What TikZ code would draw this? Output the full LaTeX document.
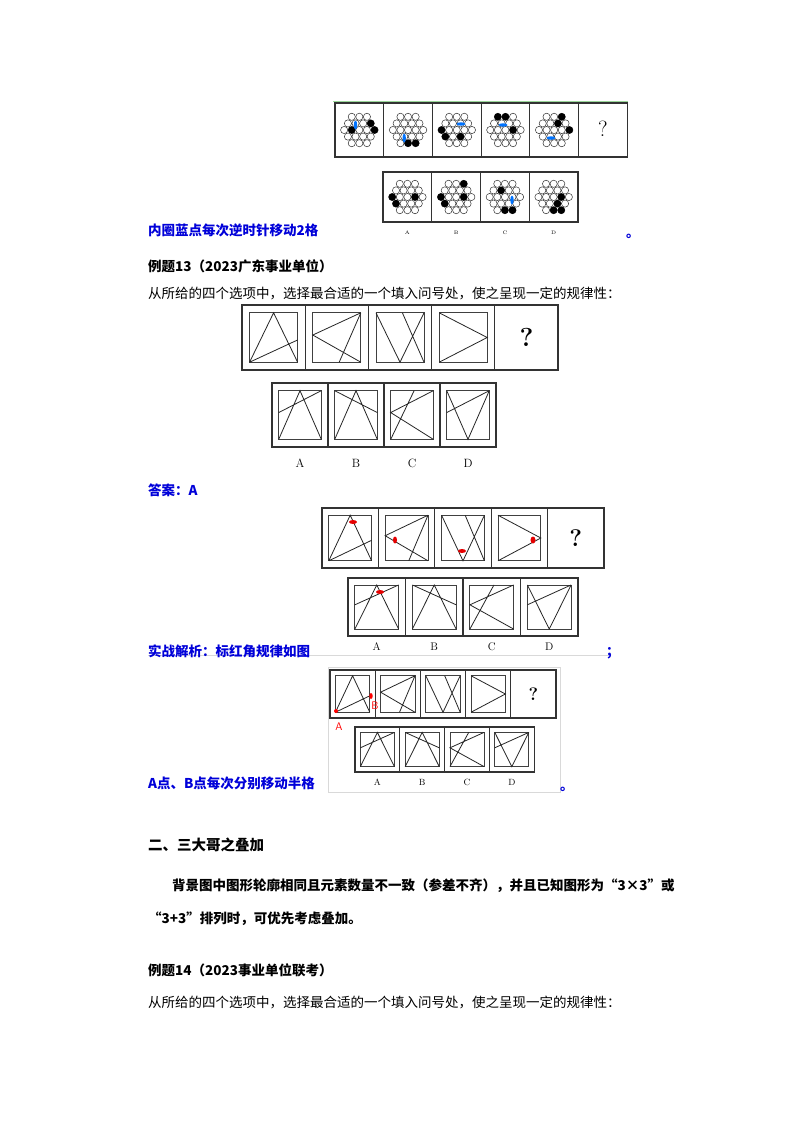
\documentclass[tikz,border=0pt]{standalone}
\usepackage{fontspec}
\newfontfamily\cjk{Noto Sans CJK SC}
\begin{document}
\begin{tikzpicture}[x=1pt,y=-1pt,
  frame/.style={draw=black!80,line width=1.2pt},
  inner/.style={draw=black!75,line width=0.9pt},
  ln/.style={black!85,line width=0.8pt},
  circ/.style={draw=black!80,fill=white,line width=0.5pt},
  txt/.style={anchor=base west,font=\cjk\fontsize{13.5}{16}\selectfont,inner sep=0pt},
  btxt/.style={txt,font=\cjk\bfseries\fontsize{13.5}{16}\selectfont},
  bl/.style={btxt,text=blue!85!black},
  lab/.style={anchor=base,inner sep=0pt},
  redm/.style={fill=red!90!black},
  bluem/.style={fill=blue!55!cyan}]
\useasboundingbox (0,0) rectangle (800,1132);
\fill[white] (0,0) rectangle (800,1132);
\newcommand\tlines[1]{%
 \ifcase#1
  \draw[ln] (0,1)--(0.5,0)--(1,1) (0,1)--(1,0.55);
 \or \draw[ln] (1,0)--(0,0.45)--(1,1) (1,0)--(0.55,1);
 \or \draw[ln] (0,0)--(0.5,1)--(1,0) (0.55,0)--(1,1);
 \or \draw[ln] (0,0)--(1,0.5)--(0,1);
 \or \draw[ln] (0,1)--(0.5,0)--(1,1) (0,0.45)--(1,0);
 \or \draw[ln] (0,1)--(0.5,0)--(1,1) (0,0)--(1,0.45);
 \or \draw[ln] (1,0)--(0,0.45)--(1,1) (0.55,0)--(0,1);
 \or \draw[ln] (0,0)--(0.5,1)--(1,0) (0,0.45)--(1,0);
 \fi}
\newcommand\tcell[5]{%
 \draw[frame] (#1,#2) rectangle ++(#3,#4);
 \begin{scope}[shift={(#1+0.12*#3,#2+0.12*#4)},xscale=0.76*#3,yscale=0.76*#4]
  \draw[inner] (0,0) rectangle (1,1);
  \tlines{#5}
 \end{scope}}
\newcommand\qcell[5]{%
 \draw[frame] (#1,#2) rectangle ++(#3,#4);
 \node[font=\bfseries\fontsize{#5}{#5}\selectfont] at (#1+0.5*#3,#2+0.5*#4) {?};}
\newcommand\hexfig[3]{%
 \foreach \r/\n in {0/3,1/4,2/5,3/4,4/3}{\foreach \k in {1,...,\n}{%
   \draw[circ] ({#1+(\k-1-(\n-1)/2)*7.6},{#2+(\r-2)*6.6}) circle[radius=3.6pt];}}
 \foreach \r/\k in {#3}{\pgfmathsetmacro\nn{5-abs(\r-2)}%
   \fill[black] ({#1+(\k-(\nn-1)/2)*7.6},{#2+(\r-2)*6.6}) circle[radius=3.7pt];}}
\newcommand\hopt[3]{%
  \draw[frame] (383+#1*48.75,172) rectangle ++(48.75,50);
  \hexfig{407.4+#1*48.75}{197}{#3}
  \node[lab,font=\fontsize{5}{5}\selectfont] at (407.4+#1*48.75,234) {#2};}
% ===== hex figure =====
\draw[green!60!black!40,line width=0.8pt] (333,101)--(628,101);
\foreach \i in {0,...,4}{\draw[frame] (335+\i*48.7,103) rectangle ++(48.7,54);}
\draw[frame] (335+5*48.7,103) rectangle ++(48.7,54);
\node[font=\fontsize{22}{22}\selectfont] at (335+5.5*48.7,129) {?};
\hexfig{359.35}{130}{1/3,2/4,2/1}
\fill[bluem] (355.5,125) ellipse [x radius=1.7pt,y radius=4.5pt];
\hexfig{408.05}{130}{4/1,4/2}
\fill[bluem] (404.2,138) ellipse [x radius=1.7pt,y radius=4.5pt];
\hexfig{456.75}{130}{2/0,3/0,3/2}
\fill[bluem] (461,124) ellipse [x radius=4.5pt,y radius=1.7pt];
\hexfig{505.45}{130}{0/0,0/1,2/3}
\fill[bluem] (503,125) ellipse [x radius=4.5pt,y radius=1.7pt];
\hexfig{554.15}{130}{0/2,1/2,2/4}
\fill[bluem] (551,138) ellipse [x radius=4.5pt,y radius=1.7pt];
\hopt{0}{A}{2/0,2/3,3/0}
\hopt{1}{B}{0/2,2/0,2/3,3/0}
\hopt{2}{C}{1/1,4/1,4/2}
\hopt{3}{D}{2/3,3/2,4/1,4/2}
\fill[bluem] (512,200) ellipse [x radius=1.7pt,y radius=4.5pt];
\node[bl] at (148,235) {内圈蓝点每次逆时针移动2格};
\node[bl] at (626,237) {。};
\node[btxt] at (148,271) {例题13（2023广东事业单位）};
\node[txt] at (148,298) {从所给的四个选项中，选择最合适的一个填入问号处，使之呈现一定的规律性：};
% ===== figure 2 =====
\foreach \i in {0,...,3}{\tcell{242+\i*63.2}{305}{63.2}{65}{\i}}
\qcell{242+4*63.2}{305}{63.2}{65}{26}
\foreach \i/\l in {0/A,1/B,2/C,3/D}{\tcell{272+\i*56}{383}{56}{64}{\numexpr\i+4\relax}
  \node[lab,font=\fontsize{12}{12}\selectfont] at (300+\i*56,467) {\l};}
\node[bl] at (148,495) {答案：A};
% ===== figure 3 =====
\foreach \i in {0,...,3}{\tcell{322+\i*56.4}{508}{56.4}{60}{\i}}
\qcell{322+4*56.4}{508}{56.4}{60}{24}
\foreach \i/\l in {0/A,1/B,2/C,3/D}{\tcell{348+\i*57.5}{578}{57.5}{58}{\numexpr\i+4\relax}
  \node[lab,font=\fontsize{11}{11}\selectfont] at (376.75+\i*57.5,650) {\l};}
\fill[redm] (353,522) ellipse [x radius=4pt,y radius=2pt];
\fill[redm] (395,540) ellipse [x radius=2pt,y radius=3.5pt];
\fill[redm] (462,551) ellipse [x radius=4pt,y radius=2pt];
\fill[redm] (533,540) ellipse [x radius=2.5pt,y radius=3.5pt];
\fill[redm] (380,592) ellipse [x radius=4pt,y radius=2pt];
\draw[black!15,line width=0.4pt] (148,655)--(610,655);
\node[bl] at (148,656) {实战解析：标红角规律如图};
\node[bl] at (606,656) {；};
% ===== figure 4 =====
\draw[black!15,line width=0.4pt] (328,667) rectangle (560,792);
\foreach \i in {0,...,3}{\tcell{330+\i*45.2}{670}{45.2}{48}{\i}}
\qcell{330+4*45.2}{670}{45.2}{48}{18}
\foreach \i/\l in {0/A,1/B,2/C,3/D}{\tcell{355+\i*44.8}{727}{44.8}{45}{\numexpr\i+4\relax}
  \node[lab,font=\fontsize{9}{9}\selectfont] at (377.4+\i*44.8,785) {\l};}
\fill[red] (336,711) circle[radius=2pt];
\fill[red] (371,696) ellipse [x radius=1.7pt,y radius=3pt];
\node[lab,text=red,font=\sffamily\fontsize{11}{11}\selectfont] at (339,730) {A};
\node[lab,text=red,font=\sffamily\fontsize{11}{11}\selectfont] at (375,709) {B};
\node[bl] at (148,788) {A点、B点每次分别移动半格};
\node[bl] at (560,790) {。};
% ===== text section =====
\node[btxt,font=\cjk\bfseries\fontsize{14.5}{17}\selectfont] at (148,850) {二、三大哥之叠加};
\node[btxt] at (172,890) {背景图中图形轮廓相同且元素数量不一致（参差不齐），并且已知图形为“3×3”或};
\node[btxt] at (148,923) {“3+3”排列时，可优先考虑叠加。};
\node[btxt] at (148,975) {例题14（2023事业单位联考）};
\node[txt] at (148,1007) {从所给的四个选项中，选择最合适的一个填入问号处，使之呈现一定的规律性：};
\end{tikzpicture}
\end{document}
